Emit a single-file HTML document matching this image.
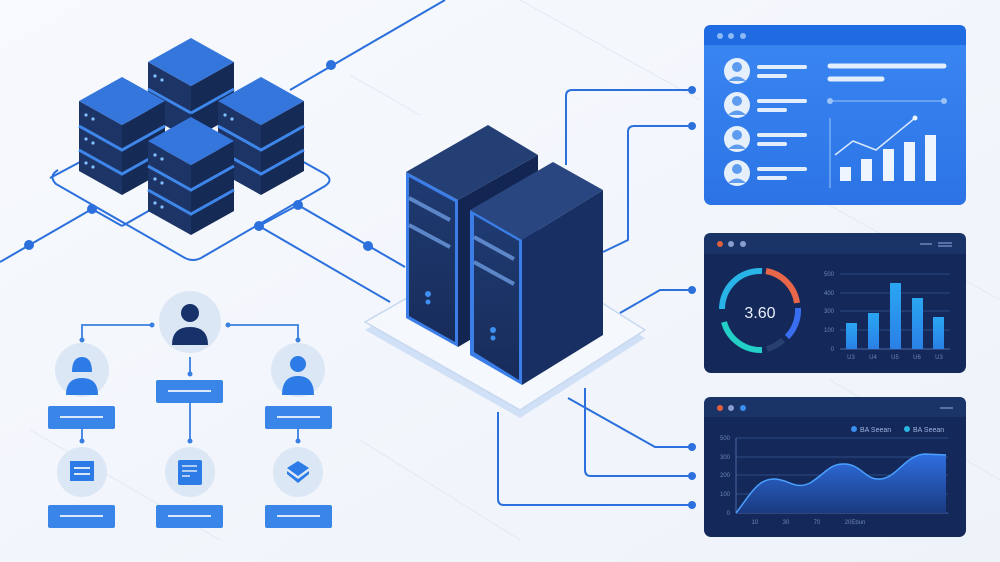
<!DOCTYPE html>
<html><head><meta charset="utf-8"><style>
html,body{margin:0;padding:0;background:#f3f7fc;}
svg{display:block;font-family:"Liberation Sans",sans-serif;}
</style></head><body>
<svg width="1000" height="562" viewBox="0 0 1000 562" xmlns="http://www.w3.org/2000/svg">
<defs>
<linearGradient id="bg" x1="0" y1="0" x2="1" y2="1"><stop offset="0" stop-color="#f7f9fd"/><stop offset="1" stop-color="#eef3fa"/></linearGradient>
<linearGradient id="p1" x1="0" y1="0" x2="0" y2="1"><stop offset="0" stop-color="#3a87f2"/><stop offset="1" stop-color="#2c74e6"/></linearGradient>
<linearGradient id="area" x1="0" y1="0" x2="0" y2="1"><stop offset="0" stop-color="#2f6fe0"/><stop offset="1" stop-color="#1a3a80"/></linearGradient>
<linearGradient id="srv" x1="0" y1="0" x2="0" y2="1"><stop offset="0" stop-color="#1f3b72"/><stop offset="1" stop-color="#172c5a"/></linearGradient>
<linearGradient id="bar" x1="0" y1="0" x2="0" y2="1"><stop offset="0" stop-color="#2aa6f2"/><stop offset="1" stop-color="#2a80e6"/></linearGradient>
</defs>
<rect width="1000" height="562" fill="url(#bg)"/>
<g stroke="#e3e9f2" stroke-width="1" fill="none">
<path d="M350 75 L420 115 M520 0 L700 100 M30 430 L220 540 M820 200 L1000 300 M830 380 L1000 480 M360 440 L520 540"/>
</g>

<!-- network lines left -->
<g stroke="#2b70dc" stroke-width="2" fill="none">
<path d="M0 262 L92 209"/>
<path d="M58 170 Q48 176 56 184 L185 258 Q193 262 201 258 L325 186 Q334 180 325 174 L300 160"/>
<path d="M50 178 L80 162"/>
<path d="M92 209 L122 226"/>
<path d="M122 226 L152 209"/>
<path d="M259 226 L298 205"/>
<path d="M259 226 L390 302"/>
<path d="M298 205 L405 267"/>
<path d="M290 90 L445 0"/>
<path d="M566 165 L566 96 Q566 90 572 90 L690 90"/>
<path d="M603 252 L628 240 L628 132 Q628 126 634 126 L692 126"/>
<path d="M620 313 L660 290 L692 290"/>
<path d="M568 398 L655 447 L692 447"/>
<path d="M585 388 L585 470 Q585 476 591 476 L692 476"/>
<path d="M498 412 L498 499 Q498 505 504 505 L692 505"/>
</g>
<g fill="#2b70dc">
<circle cx="29" cy="245" r="5"/><circle cx="92" cy="209" r="5"/><circle cx="259" cy="226" r="5"/><circle cx="298" cy="205" r="5"/><circle cx="368" cy="246" r="5"/><circle cx="331" cy="65" r="5"/>
<circle cx="692" cy="90" r="4"/><circle cx="692" cy="126" r="4"/><circle cx="692" cy="290" r="4"/><circle cx="692" cy="447" r="4"/><circle cx="692" cy="476" r="4"/><circle cx="692" cy="505" r="4"/>
</g>

<!-- stacked cubes -->
<g id="cubes">
<!-- back tower -->
<g>
<polygon points="148,62 191,86 191,140 148,116" fill="#1d3566"/>
<polygon points="191,86 234,62 234,116 191,140" fill="#152a55"/>
<line x1="148" y1="89" x2="191" y2="113" stroke="#3f86ea" stroke-width="3"/><line x1="191" y1="113" x2="234" y2="89" stroke="#3f86ea" stroke-width="3"/>
<polygon points="191,38 234,62 191,86 148,62" fill="#3576dc"/>
<circle cx="155" cy="76" r="1.6" fill="#7fc0ff"/><circle cx="162" cy="80" r="1.6" fill="#7fc0ff"/>
</g>
<g>
<polygon points="79,101 122,125 122,195 79,171" fill="#1d3566"/>
<polygon points="122,125 165,101 165,171 122,195" fill="#152a55"/>
<path d="M79 126 L122 150 L165 126 M79 150 L122 174 L165 150" stroke="#3f86ea" stroke-width="3" fill="none"/>
<polygon points="122,77 165,101 122,125 79,101" fill="#3576dc"/>
<g fill="#7fc0ff"><circle cx="86" cy="115" r="1.6"/><circle cx="93" cy="119" r="1.6"/><circle cx="86" cy="139" r="1.6"/><circle cx="93" cy="143" r="1.6"/><circle cx="86" cy="163" r="1.6"/><circle cx="93" cy="167" r="1.6"/></g>
</g>
<g>
<polygon points="218,101 261,125 261,195 218,171" fill="#1d3566"/>
<polygon points="261,125 304,101 304,171 261,195" fill="#152a55"/>
<path d="M218 126 L261 150 L304 126 M218 150 L261 174 L304 150" stroke="#3f86ea" stroke-width="3" fill="none"/>
<polygon points="261,77 304,101 261,125 218,101" fill="#3576dc"/>
<g fill="#7fc0ff"><circle cx="225" cy="115" r="1.6"/><circle cx="232" cy="119" r="1.6"/></g>
</g>
<g>
<polygon points="148,141 191,165 191,235 148,211" fill="#1d3566"/>
<polygon points="191,165 234,141 234,211 191,235" fill="#152a55"/>
<path d="M148 166 L191 190 L234 166 M148 190 L191 214 L234 190" stroke="#3f86ea" stroke-width="3" fill="none"/>
<polygon points="191,117 234,141 191,165 148,141" fill="#3576dc"/>
<g fill="#7fc0ff"><circle cx="155" cy="155" r="1.6"/><circle cx="162" cy="159" r="1.6"/><circle cx="155" cy="179" r="1.6"/><circle cx="162" cy="183" r="1.6"/><circle cx="155" cy="203" r="1.6"/><circle cx="162" cy="207" r="1.6"/></g>
</g>
</g>

<!-- platform -->
<polygon points="365,322 505,242 645,330 520,410" fill="#cfe0f7" transform="translate(0,8)"/>
<polygon points="365,322 505,242 645,330 520,410" fill="#f5f8fd" stroke="#c7d8f0" stroke-width="1.5" stroke-linejoin="round"/>

<!-- server 1 -->
<polygon points="458,200 538,155 538,300 458,347" fill="#132552"/>
<polygon points="406,172 488,125 538,155 458,200" fill="#243f74"/>
<polygon points="406,172 458,200 458,347 406,318" fill="#3b7ee8"/>
<polygon points="409,177 455,202 455,342 409,316" fill="url(#srv)"/>
<g stroke="#5c86c8" stroke-width="4"><line x1="409" y1="198" x2="450" y2="220"/><line x1="409" y1="225" x2="450" y2="247"/></g>
<circle cx="428" cy="294" r="3" fill="#3f8ff0"/><circle cx="428" cy="302" r="2.5" fill="#3f8ff0"/>
<!-- server 2 -->
<polygon points="522,240 603,190 603,335 522,385" fill="#172f62"/>
<polygon points="470,210 553,162 603,190 522,240" fill="#2a4680"/>
<polygon points="470,210 522,240 522,385 470,355" fill="#3b7ee8"/>
<polygon points="474,215 519,241 519,380 474,352" fill="url(#srv)"/>
<g stroke="#5c86c8" stroke-width="4"><line x1="474" y1="237" x2="514" y2="259"/><line x1="474" y1="262" x2="514" y2="284"/></g>
<circle cx="493" cy="330" r="3" fill="#3f8ff0"/><circle cx="493" cy="338" r="2.5" fill="#3f8ff0"/>

<!-- org chart -->
<g stroke="#3a80e0" stroke-width="1.8" fill="none">
<path d="M150 325 L82 325 L82 340 M230 325 L298 325 L298 340 M190 357 L190 372 M190 402 L190 440 M82 428 L82 442 M298 428 L298 442"/>
</g>
<g fill="#3a80e0"><circle cx="152" cy="325" r="2.5"/><circle cx="228" cy="325" r="2.5"/><circle cx="82" cy="340" r="2.5"/><circle cx="298" cy="340" r="2.5"/><circle cx="190" cy="374" r="2.5"/><circle cx="190" cy="441" r="2.5"/><circle cx="82" cy="441" r="2.5"/><circle cx="298" cy="441" r="2.5"/></g>
<circle cx="190" cy="322" r="31" fill="#dce7f6"/>
<circle cx="190" cy="313" r="9" fill="#17326a"/><path d="M172 345 Q172 327 190 327 Q208 327 208 345 Z" fill="#17326a"/>
<circle cx="82" cy="370" r="27" fill="#dce7f6"/>
<path d="M72 372 Q72 357 82 357 Q92 357 92 372 Z" fill="#2d7be6"/><path d="M66 395 Q66 378 82 378 Q98 378 98 395 Z" fill="#2d7be6"/>
<circle cx="298" cy="370" r="27" fill="#dce7f6"/>
<circle cx="298" cy="364" r="8" fill="#2d7be6"/><path d="M282 395 Q282 376 298 376 Q314 376 314 395 Z" fill="#2d7be6"/>
<circle cx="82" cy="472" r="25" fill="#dce7f6"/><circle cx="190" cy="472" r="25" fill="#dce7f6"/><circle cx="298" cy="472" r="25" fill="#dce7f6"/>
<rect x="70" y="461" width="24" height="20" fill="#2d7be6"/><g stroke="#dce7f6" stroke-width="2"><line x1="74" y1="468" x2="90" y2="468"/><line x1="74" y1="474" x2="90" y2="474"/></g>
<rect x="178" y="460" width="24" height="25" rx="2" fill="#2d7be6"/><g stroke="#dce7f6" stroke-width="1.5"><line x1="182" y1="466" x2="197" y2="466"/><line x1="182" y1="471" x2="197" y2="471"/><line x1="182" y1="476" x2="190" y2="476"/></g>
<path d="M287 468 L298 461 L309 468 L298 476 Z" fill="#2d7be6"/><path d="M287 471 L298 479 L309 471 L309 474 L298 483 L287 474 Z" fill="#2d7be6"/>
<g fill="#3a86e8">
<rect x="156" y="380" width="67" height="23" rx="2"/><rect x="48" y="406" width="67" height="23" rx="2"/><rect x="265" y="406" width="67" height="23" rx="2"/>
<rect x="48" y="505" width="67" height="23" rx="2"/><rect x="156" y="505" width="67" height="23" rx="2"/><rect x="265" y="505" width="67" height="23" rx="2"/>
</g>
<g stroke="#dbe8fb" stroke-width="2"><line x1="168" y1="391" x2="211" y2="391"/><line x1="60" y1="417" x2="103" y2="417"/><line x1="277" y1="417" x2="320" y2="417"/><line x1="60" y1="516" x2="103" y2="516"/><line x1="168" y1="516" x2="211" y2="516"/><line x1="277" y1="516" x2="320" y2="516"/></g>

<!-- panel 1 -->
<rect x="704" y="25" width="262" height="180" rx="7" fill="url(#p1)"/>
<path d="M704 45 L704 32 Q704 25 711 25 L959 25 Q966 25 966 32 L966 45 Z" fill="#1f6be2"/>
<g fill="#8cb8f6"><circle cx="720" cy="36" r="3"/><circle cx="731" cy="36" r="3"/><circle cx="743" cy="36" r="3"/></g>
<g>
<circle cx="737" cy="71" r="13" fill="#e6f0fd"/><circle cx="737" cy="67" r="5" fill="#5e9cf0"/><path d="M728 81 Q737 72 746 81 Z" fill="#5e9cf0"/>
<circle cx="737" cy="105" r="13" fill="#e6f0fd"/><circle cx="737" cy="101" r="5" fill="#5e9cf0"/><path d="M728 115 Q737 106 746 115 Z" fill="#5e9cf0"/>
<circle cx="737" cy="139" r="13" fill="#e6f0fd"/><circle cx="737" cy="135" r="5" fill="#5e9cf0"/><path d="M728 149 Q737 140 746 149 Z" fill="#5e9cf0"/>
<circle cx="737" cy="173" r="13" fill="#e6f0fd"/><circle cx="737" cy="169" r="5" fill="#5e9cf0"/><path d="M728 183 Q737 174 746 183 Z" fill="#5e9cf0"/>
</g>
<g stroke="#e3eefd" stroke-width="4" stroke-linecap="round">
<line x1="759" y1="67" x2="805" y2="67"/><line x1="759" y1="76" x2="785" y2="76"/>
<line x1="759" y1="101" x2="805" y2="101"/><line x1="759" y1="110" x2="785" y2="110"/>
<line x1="759" y1="135" x2="805" y2="135"/><line x1="759" y1="144" x2="785" y2="144"/>
<line x1="759" y1="169" x2="805" y2="169"/><line x1="759" y1="178" x2="785" y2="178"/>
<line x1="830" y1="66" x2="944" y2="66" stroke-width="5"/><line x1="830" y1="79" x2="882" y2="79" stroke-width="5"/>
</g>
<line x1="830" y1="101" x2="944" y2="101" stroke="#9cc3f7" stroke-width="1"/><circle cx="830" cy="101" r="3" fill="#9cc3f7"/><circle cx="944" cy="101" r="3" fill="#9cc3f7"/>
<line x1="830" y1="118" x2="830" y2="188" stroke="#9cc3f7" stroke-width="1"/>
<g fill="#eef5fe"><rect x="840" y="167" width="11" height="14"/><rect x="861" y="159" width="11" height="22"/><rect x="883" y="149" width="11" height="32"/><rect x="904" y="142" width="11" height="39"/><rect x="925" y="135" width="11" height="46"/></g>
<polyline points="835,155 853,141 876,150 915,118" fill="none" stroke="#dbe9fd" stroke-width="1.5"/><circle cx="915" cy="118" r="2.5" fill="#eef5fe"/>

<!-- panel 2 -->
<rect x="704" y="233" width="262" height="140" rx="7" fill="#14295a"/>
<path d="M704 254 L704 240 Q704 233 711 233 L959 233 Q966 233 966 240 L966 254 Z" fill="#1b3468"/>
<circle cx="720" cy="244" r="3" fill="#e0603f"/><circle cx="731" cy="244" r="3" fill="#8a9ecf"/><circle cx="743" cy="244" r="3" fill="#8a9ecf"/>
<g stroke="#6b86bf" stroke-width="1.5"><line x1="920" y1="244" x2="932" y2="244"/><line x1="938" y1="243" x2="952" y2="243"/><line x1="938" y1="246" x2="952" y2="246"/></g>
<g fill="none" stroke-width="6">
<path d="M722 309 A38 38 0 0 1 762 271" stroke="#29b4e8"/>
<path d="M766 271 A38 38 0 0 1 797 303" stroke="#e8664a"/>
<path d="M798 308 A38 38 0 0 1 787 337" stroke="#3a6ef0"/>
<path d="M783 340 A38 38 0 0 1 767 349" stroke="#27406f"/>
<path d="M762 350 A38 38 0 0 1 724 322" stroke="#23d0c8"/>
</g>
<text x="760" y="318" font-size="16" fill="#e8eefb" text-anchor="middle">3.60</text>
<g stroke="#2d4a85" stroke-width="1"><line x1="840" y1="274" x2="950" y2="274"/><line x1="840" y1="293" x2="950" y2="293"/><line x1="840" y1="311" x2="950" y2="311"/><line x1="840" y1="330" x2="950" y2="330"/><line x1="840" y1="349" x2="950" y2="349" stroke="#4b68a5"/></g>
<g font-size="6" fill="#6f86b6" text-anchor="end"><text x="834" y="276">500</text><text x="834" y="295">400</text><text x="834" y="313">300</text><text x="834" y="332">100</text><text x="834" y="351">0</text></g>
<g fill="url(#bar)"><rect x="846" y="323" width="11" height="26"/><rect x="868" y="313" width="11" height="36"/><rect x="890" y="283" width="11" height="66"/><rect x="912" y="298" width="11" height="51"/><rect x="933" y="317" width="11" height="32"/></g>
<g font-size="6" fill="#6f86b6" text-anchor="middle"><text x="851" y="359">U3</text><text x="873" y="359">U4</text><text x="895" y="359">U5</text><text x="917" y="359">U6</text><text x="939" y="359">U3</text></g>

<!-- panel 3 -->
<rect x="704" y="397" width="262" height="140" rx="7" fill="#14295a"/>
<path d="M704 417 L704 404 Q704 397 711 397 L959 397 Q966 397 966 404 L966 417 Z" fill="#1b3468"/>
<circle cx="720" cy="408" r="3" fill="#e0603f"/><circle cx="731" cy="408" r="3" fill="#8a9ecf"/><circle cx="743" cy="408" r="3" fill="#3a8ff0"/>
<line x1="940" y1="408" x2="953" y2="408" stroke="#6b86bf" stroke-width="1.5"/>
<circle cx="854" cy="429" r="3" fill="#3a8ff0"/><text x="860" y="432" font-size="7" fill="#9fb3dc">BA Seean</text>
<circle cx="907" cy="429" r="3" fill="#28b6e0"/><text x="913" y="432" font-size="7" fill="#9fb3dc">BA Seean</text>
<g stroke="#2d4a85" stroke-width="1"><line x1="736" y1="438" x2="948" y2="438"/><line x1="736" y1="457" x2="948" y2="457"/><line x1="736" y1="475" x2="948" y2="475"/><line x1="736" y1="494" x2="948" y2="494"/><line x1="736" y1="513" x2="948" y2="513" stroke="#4b68a5"/></g>
<line x1="736" y1="438" x2="736" y2="513" stroke="#4b68a5"/>
<g font-size="6" fill="#6f86b6" text-anchor="end"><text x="730" y="440">500</text><text x="730" y="459">300</text><text x="730" y="477">200</text><text x="730" y="496">100</text><text x="730" y="515">0</text></g>
<path d="M736 513 C750 495 758 478 775 479 C790 480 795 490 810 483 C825 474 830 463 845 464 C862 465 865 480 880 479 C897 478 905 455 925 454 L946 455 L946 513 Z" fill="url(#area)"/>
<path d="M736 513 C750 495 758 478 775 479 C790 480 795 490 810 483 C825 474 830 463 845 464 C862 465 865 480 880 479 C897 478 905 455 925 454 L946 455" fill="none" stroke="#4aa0ff" stroke-width="1.5"/>
<g font-size="6" fill="#6f86b6" text-anchor="middle"><text x="755" y="524">10</text><text x="786" y="524">30</text><text x="817" y="524">70</text><text x="855" y="524">20Ebun</text></g>
</svg>
</body></html>
